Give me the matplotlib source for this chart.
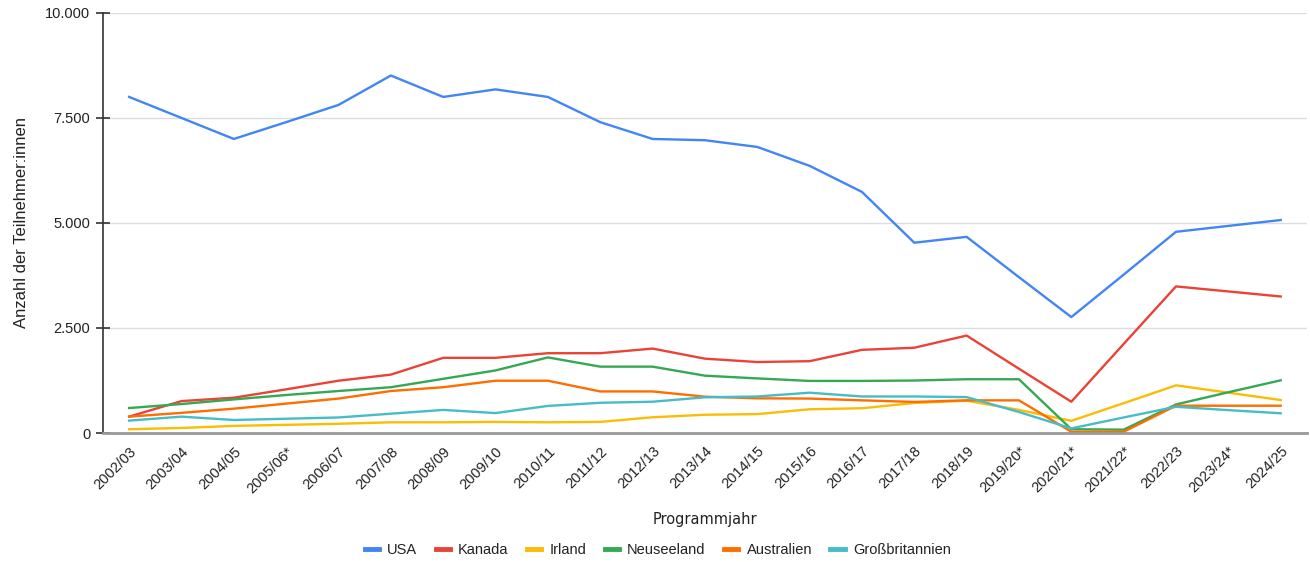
import matplotlib
matplotlib.use('Agg')
import matplotlib.pyplot as plt
from matplotlib.ticker import FuncFormatter

plt.rcParams['font.family'] = ['Liberation Sans', 'DejaVu Sans']

years = ['2002/03', '2003/04', '2004/05', '2005/06*', '2006/07', '2007/08', '2008/09',
         '2009/10', '2010/11', '2011/12', '2012/13', '2013/14', '2014/15', '2015/16',
         '2016/17', '2017/18', '2018/19', '2019/20*', '2020/21*', '2021/22*', '2022/23',
         '2023/24*', '2024/25']

usa = [8000, 7500, 7000, 7400, 7810, 8510, 8000, 8180, 8000, 7400, 7000, 6970, 6810,
       6360, 5740, 4530, 4670, 3710, 2760, 3770, 4790, 4930, 5070]
kanada = [390, 760, 840, 1040, 1245, 1390, 1790, 1790, 1900, 1900, 2010, 1770, 1690,
          1710, 1980, 2030, 2320, 1530, 745, 2120, 3490, 3370, 3250]
irland = [90, 120, 170, 195, 220, 255, 255, 265, 255, 265, 375, 435, 450, 565, 590,
          715, 770, 550, 290, 710, 1135, 960, 785]
neuseeland = [595, 690, 800, 905, 1000, 1090, 1290, 1490, 1800, 1580, 1580, 1365, 1300,
              1240, 1240, 1250, 1280, 1280, 90, 80, 680, 970, 1255]
australien = [390, 480, 580, 700, 820, 1000, 1090, 1245, 1245, 990, 990, 865, 826, 820,
              778, 740, 778, 778, 30, 30, 650, 650, 650]
gb = [295, 390, 310, 340, 370, 460, 550, 475, 645, 720, 745, 850, 870, 960, 870, 870,
      855, 500, 110, 370, 625, 545, 470]

series = [('USA', usa, '#4285F4'), ('Kanada', kanada, '#EA4335'),
          ('Irland', irland, '#FBBC04'), ('Neuseeland', neuseeland, '#34A853'),
          ('Australien', australien, '#FF6D01'), ('Großbritannien', gb, '#46BDC6')]

fig = plt.figure(figsize=(13.1, 5.62), dpi=100)
ax = fig.add_axes([0.0786, 0.2295, 0.919, 0.7475])

x = list(range(len(years)))
for name, vals, col in series:
    ax.plot(x, vals, color=col, lw=1.7, label=name)

ax.set_xlim(-0.5, len(years) - 0.5)
ax.set_ylim(0, 10000)
ax.set_yticks([0, 2500, 5000, 7500, 10000])
ax.yaxis.set_major_formatter(FuncFormatter(lambda v, p: f'{int(v):,}'.replace(',', '.')))
ax.set_xticks(x)
ax.set_xticklabels(years, rotation=45, ha='right', rotation_mode='anchor')
ax.grid(axis='y', color='#dddddd', lw=1)
ax.set_axisbelow(True)

for s in ['top', 'right']:
    ax.spines[s].set_visible(False)
ax.spines['left'].set_color('#333333')
ax.spines['left'].set_linewidth(1.2)
ax.spines['bottom'].set_color('#999999')
ax.spines['bottom'].set_linewidth(2)
ax.tick_params(axis='y', direction='inout', length=10, width=1.2, color='#333333',
               labelsize=10.5, labelcolor='#222222', pad=4)
ax.tick_params(axis='x', length=0, labelsize=10.5, labelcolor='#222222', pad=8)

ax.set_ylabel('Anzahl der Teilnehmer:innen', fontsize=12, color='#222222', labelpad=12)
ax.set_xlabel('Programmjahr', fontsize=10.5, color='#222222', labelpad=12,
              family=['DejaVu Sans'])

fig.legend(loc='center', bbox_to_anchor=(0.502, 0.022), ncol=6, frameon=False,
           fontsize=10.5, handlelength=1.0, handletextpad=0.55, columnspacing=1.25,
           labelcolor='#222222')
for lh in fig.legends[0].get_lines():
    lh.set_linewidth(3.5)

fig.savefig('out.png', dpi=100)
